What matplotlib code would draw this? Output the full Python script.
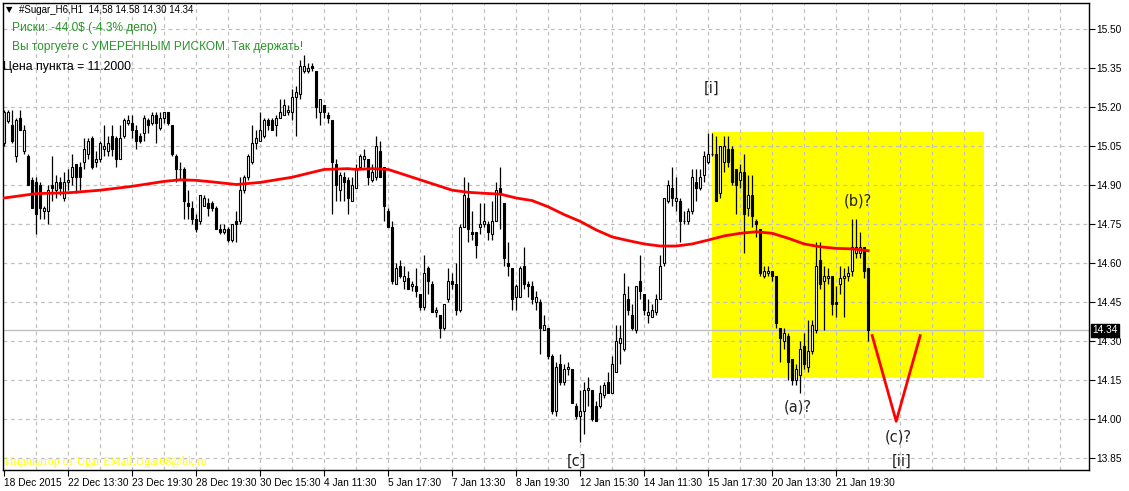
import numpy as np
import matplotlib
matplotlib.use("Agg")
import matplotlib.pyplot as plt
from matplotlib.patches import Rectangle
from matplotlib.transforms import blended_transform_factory

# OHLC, H1 bars
opens = [15.06, 15.145, 15.13, 15.01, 15.16, 15.03, 15.01, 14.92, 14.91, 14.90,
         14.80, 14.80, 14.90, 14.88, 14.91, 14.85, 14.91, 14.93, 14.98, 14.97,
         14.99, 15.02, 15.08, 14.99, 15.00, 15.04, 15.03, 15.09, 15.08, 15.00,
         15.09, 15.14, 15.14, 15.11, 15.09, 15.10, 15.15, 15.14, 15.17, 15.12,
         15.16, 15.18, 15.13, 15.01, 14.96, 14.96, 14.83, 14.81, 14.77, 14.76,
         14.82, 14.83, 14.83, 14.81, 14.73, 14.72, 14.73, 14.69, 14.76, 14.76,
         14.88, 14.93, 14.99, 15.06, 15.07, 15.09, 15.15, 15.15, 15.13, 15.16,
         15.17, 15.18, 15.18, 15.24, 15.25, 15.34, 15.34, 15.36, 15.34, 15.18,
         15.21, 15.17, 15.15, 14.98, 14.88, 14.93, 14.92, 14.84, 14.89, 14.97,
         15.00, 15.00, 14.92, 14.93, 15.03, 14.97, 14.80, 14.74, 14.52, 14.59,
         14.53, 14.54, 14.51, 14.51, 14.48, 14.43, 14.58, 14.52, 14.41, 14.40,
         14.35, 14.46, 14.53, 14.52, 14.42, 14.74, 14.85, 14.72, 14.72, 14.74,
         14.75, 14.75, 14.71, 14.76, 14.89, 14.83, 14.60, 14.58, 14.47, 14.47,
         14.59, 14.52, 14.51, 14.45, 14.45, 14.34, 14.35, 14.24, 14.03, 14.21,
         14.14, 14.19, 14.19, 14.05, 14.01, 14.03, 14.11, 14.11, 14.05, 14.05,
         14.09, 14.14, 14.10, 14.18, 14.29, 14.27, 14.46, 14.40, 14.34, 14.53,
         14.48, 14.40, 14.39, 14.41, 14.46, 14.60, 14.84, 14.89, 14.84, 14.84,
         14.76, 14.76, 14.80, 14.91, 14.89, 14.94, 14.99, 15.02, 15.02, 14.87,
         14.99, 15.04, 15.04, 14.96, 14.92, 14.95, 14.81, 14.86, 14.76, 14.73,
         14.55, 14.56, 14.57, 14.55, 14.35, 14.30, 14.32, 14.23, 14.15, 14.17,
         14.28, 14.20, 14.26, 14.34, 14.61, 14.53, 14.54, 14.55, 14.45, 14.52,
         14.54, 14.55, 14.57, 14.64, 14.64, 14.66, 14.58]
highs = [15.19, 15.19, 15.19, 15.16, 15.19, 15.13, 15.02, 14.93, 14.93, 14.91,
         14.82, 14.90, 15.01, 14.94, 14.93, 14.95, 14.96, 15.02, 14.98, 14.99,
         15.08, 15.08, 15.09, 15.03, 15.07, 15.13, 15.09, 15.13, 15.09, 15.13,
         15.16, 15.17, 15.17, 15.13, 15.10, 15.17, 15.16, 15.18, 15.18, 15.18,
         15.18, 15.18, 15.13, 15.02, 14.99, 14.97, 14.88, 14.84, 14.79, 14.86,
         14.86, 14.85, 14.84, 14.82, 14.75, 14.75, 14.74, 14.75, 14.80, 14.93,
         14.94, 15.02, 15.13, 15.11, 15.18, 15.16, 15.16, 15.16, 15.17, 15.23,
         15.23, 15.21, 15.27, 15.28, 15.38, 15.40, 15.37, 15.37, 15.34, 15.23,
         15.21, 15.18, 15.15, 15.00, 14.95, 14.95, 14.93, 14.93, 14.98, 15.02,
         15.04, 15.00, 14.98, 15.09, 15.07, 14.97, 14.81, 14.76, 14.60, 14.61,
         14.59, 14.57, 14.53, 14.58, 14.48, 14.63, 14.59, 14.53, 14.43, 14.40,
         14.44, 14.58, 14.56, 14.60, 14.75, 14.93, 14.91, 14.80, 14.72, 14.83,
         14.83, 14.76, 14.84, 14.91, 14.97, 14.83, 14.68, 14.58, 14.52, 14.59,
         14.66, 14.53, 14.53, 14.49, 14.46, 14.40, 14.35, 14.25, 14.22, 14.25,
         14.21, 14.22, 14.19, 14.06, 14.11, 14.14, 14.16, 14.11, 14.07, 14.13,
         14.14, 14.18, 14.24, 14.36, 14.36, 14.56, 14.51, 14.44, 14.51, 14.63,
         14.48, 14.46, 14.44, 14.48, 14.63, 14.85, 14.92, 14.97, 14.93, 14.85,
         14.80, 14.81, 14.96, 14.96, 14.96, 15.03, 15.10, 15.10, 15.09, 15.05,
         15.09, 15.09, 15.05, 14.96, 14.98, 15.02, 14.94, 14.94, 14.77, 14.73,
         14.59, 14.59, 14.57, 14.55, 14.35, 14.35, 14.33, 14.23, 14.21, 14.30,
         14.33, 14.38, 14.38, 14.68, 14.68, 14.59, 14.58, 14.55, 14.51, 14.59,
         14.58, 14.59, 14.77, 14.77, 14.72, 14.66, 14.58]
lows = [15.05, 15.14, 15.06, 14.99, 15.11, 15.02, 14.90, 14.81, 14.71, 14.77,
        14.77, 14.75, 14.84, 14.85, 14.86, 14.84, 14.88, 14.90, 14.87, 14.88,
        14.96, 15.00, 14.96, 14.97, 14.99, 15.01, 15.01, 15.01, 14.97, 15.00,
        15.08, 15.13, 15.08, 15.04, 15.06, 15.07, 15.10, 15.13, 15.06, 15.11,
        15.14, 15.13, 15.01, 14.91, 14.92, 14.77, 14.77, 14.75, 14.72, 14.75,
        14.82, 14.78, 14.80, 14.73, 14.71, 14.71, 14.68, 14.68, 14.68, 14.75,
        14.87, 14.92, 14.98, 15.04, 15.07, 15.08, 15.11, 15.11, 15.09, 15.16,
        15.17, 15.17, 15.15, 15.09, 15.23, 15.33, 15.33, 15.34, 15.16, 15.13,
        15.16, 15.14, 14.79, 14.84, 14.84, 14.84, 14.79, 14.84, 14.89, 14.96,
        14.97, 14.90, 14.91, 14.92, 14.93, 14.76, 14.74, 14.52, 14.52, 14.54,
        14.50, 14.50, 14.49, 14.47, 14.42, 14.42, 14.48, 14.41, 14.39, 14.31,
        14.34, 14.45, 14.50, 14.40, 14.41, 14.74, 14.68, 14.69, 14.62, 14.71,
        14.74, 14.69, 14.69, 14.76, 14.73, 14.59, 14.55, 14.42, 14.42, 14.47,
        14.50, 14.47, 14.44, 14.42, 14.25, 14.34, 14.23, 14.02, 14.01, 14.13,
        14.13, 14.17, 14.06, 14.00, 13.91, 13.94, 14.05, 13.99, 13.99, 14.04,
        14.08, 14.10, 14.10, 14.18, 14.21, 14.26, 14.40, 14.34, 14.33, 14.46,
        14.40, 14.37, 14.39, 14.40, 14.46, 14.59, 14.83, 14.82, 14.80, 14.68,
        14.75, 14.75, 14.79, 14.84, 14.88, 14.91, 14.98, 15.01, 14.84, 14.85,
        14.95, 14.97, 14.90, 14.79, 14.89, 14.64, 14.78, 14.74, 14.70, 14.55,
        14.54, 14.55, 14.53, 14.35, 14.22, 14.27, 14.15, 14.13, 14.13, 14.10,
        14.19, 14.18, 14.25, 14.33, 14.50, 14.34, 14.52, 14.40, 14.39, 14.48,
        14.39, 14.53, 14.55, 14.62, 14.62, 14.54, 14.30]
closes = [15.18, 15.18, 15.07, 15.15, 15.11, 15.11, 14.90, 14.81, 14.79, 14.81,
          14.81, 14.88, 14.89, 14.91, 14.89, 14.91, 14.92, 14.97, 14.93, 14.93,
          15.04, 15.07, 14.97, 15.00, 15.06, 15.05, 15.06, 15.04, 15.00, 15.08,
          15.15, 15.15, 15.11, 15.07, 15.07, 15.16, 15.13, 15.17, 15.14, 15.16,
          15.18, 15.14, 15.02, 14.96, 14.96, 14.84, 14.82, 14.77, 14.73, 14.86,
          14.85, 14.81, 14.81, 14.73, 14.72, 14.73, 14.69, 14.75, 14.75, 14.88,
          14.93, 15.01, 15.06, 15.08, 15.11, 15.15, 15.13, 15.11, 15.16, 15.18,
          15.21, 15.19, 15.24, 15.26, 15.36, 15.36, 15.35, 15.35, 15.20, 15.23,
          15.18, 15.16, 14.99, 14.90, 14.94, 14.91, 14.85, 14.90, 14.96, 15.01,
          15.01, 14.93, 14.95, 15.05, 14.93, 14.82, 14.74, 14.53, 14.58, 14.55,
          14.55, 14.50, 14.52, 14.49, 14.43, 14.56, 14.53, 14.41, 14.42, 14.35,
          14.44, 14.53, 14.52, 14.42, 14.74, 14.86, 14.73, 14.71, 14.67, 14.75,
          14.76, 14.72, 14.76, 14.88, 14.87, 14.62, 14.59, 14.46, 14.51, 14.58,
          14.52, 14.51, 14.46, 14.47, 14.35, 14.36, 14.24, 14.03, 14.20, 14.14,
          14.19, 14.20, 14.06, 14.01, 14.03, 14.11, 14.12, 14.00, 13.99, 14.10,
          14.13, 14.10, 14.21, 14.30, 14.31, 14.48, 14.42, 14.35, 14.51, 14.49,
          14.42, 14.41, 14.42, 14.46, 14.59, 14.85, 14.90, 14.85, 14.85, 14.76,
          14.76, 14.80, 14.93, 14.89, 14.93, 15.01, 15.02, 15.02, 14.84, 15.05,
          15.05, 14.99, 14.91, 14.90, 14.95, 14.79, 14.86, 14.78, 14.75, 14.56,
          14.57, 14.57, 14.55, 14.37, 14.31, 14.33, 14.22, 14.15, 14.19, 14.27,
          14.21, 14.26, 14.36, 14.59, 14.52, 14.55, 14.55, 14.44, 14.44, 14.54,
          14.55, 14.56, 14.66, 14.66, 14.66, 14.57, 14.34]

# red moving average, sampled every few bars
ma_bars = [0, 8, 16, 24, 32, 40, 44, 48, 52, 58, 64, 72, 76, 80, 86, 88, 92, 96,
           100, 104, 108, 112, 116, 120, 124, 128, 132, 136, 140, 144, 148, 152,
           156, 160, 164, 168, 172, 176, 180, 184, 188, 192, 196, 200, 204, 208,
           212, 216]
ma_vals = [14.85, 14.867, 14.87, 14.88, 14.895, 14.914, 14.92, 14.918, 14.912,
           14.902, 14.91, 14.93, 14.945, 14.96, 14.963, 14.96, 14.963, 14.96,
           14.94, 14.92, 14.90, 14.88, 14.872, 14.868, 14.865, 14.85, 14.84,
           14.816, 14.786, 14.76, 14.727, 14.70, 14.686, 14.673, 14.665, 14.665,
           14.673, 14.688, 14.704, 14.714, 14.72, 14.714, 14.695, 14.673, 14.662,
           14.656, 14.654, 14.647]

# projected wave (c)
zz_bars = [217, 223, 229]
zz_vals = [14.32, 13.99, 14.32]

# yellow box
box_bars = (177, 245)
box_prices = (14.157, 15.104)

yticks = [13.85, 14.00, 14.15, 14.30, 14.45, 14.60, 14.75, 14.90, 15.05, 15.20, 15.35, 15.50]
xlabels = ["18 Dec 2015", "22 Dec 13:30", "23 Dec 19:30", "28 Dec 19:30", "30 Dec 15:30",
           "4 Jan 11:30", "5 Jan 17:30", "7 Jan 13:30", "8 Jan 19:30", "12 Jan 15:30",
           "14 Jan 11:30", "15 Jan 17:30", "20 Jan 13:30", "21 Jan 19:30"]
last_price = 14.34

W, H = 1129, 491
fig = plt.figure(figsize=(W / 100, H / 100), dpi=100)
L, R, T, B = 3, 1089, 3, 470
ax = fig.add_axes([L / W, 1 - B / H, (R - L) / W, (B - T) / H])
ax.set_xlim(-0.3, (R - L) / 4 - 0.3)
ax.set_ylim(13.8024, 15.601)

# yellow box below the grid
ax.add_patch(Rectangle((box_bars[0], box_prices[0]), box_bars[1] - box_bars[0],
                       box_prices[1] - box_prices[0], facecolor="#ffff00",
                       edgecolor="none", zorder=0.5))

for yv in yticks:
    ax.axhline(yv, color="#c0c0c0", lw=0.9, ls=(0, (3, 3)), zorder=1)
for xv in range(8, 272, 8):
    ax.axvline(xv, color="#c0c0c0", lw=0.9, ls=(0, (3, 3)), zorder=1)
ax.axhline(last_price, color="#c0c0c0", lw=1.0, zorder=1.2)

# candles
n = len(closes)
xs = np.arange(n)
ax.vlines(xs, lows, highs, color="black", lw=0.9, zorder=2)
for i in range(n):
    o, c = opens[i], closes[i]
    lo, hi = min(o, c), max(o, c)
    face = "white" if c >= o else "black"
    ax.add_patch(Rectangle((i - 0.3, lo), 0.6, max(hi - lo, 0.0005),
                           facecolor=face, edgecolor="black", lw=0.8, zorder=2.5))

ax.plot(ma_bars, ma_vals, color="#ff0000", lw=2.0, zorder=3)
ax.plot(zz_bars, zz_vals, color="#ff0000", lw=2.0, zorder=3)

lab = dict(fontsize=10.5, color="#222222", ha="center", va="center",
           family="DejaVu Sans", zorder=4)
ax.text(176.75, 15.274, "[i]", **lab)
ax.text(143.0, 13.837, "[c]", **lab)
ax.text(224.25, 13.837, "[ii]", **lab)
ax.text(198.5, 14.044, "(a)?", **lab)
ax.text(213.5, 14.838, "(b)?", **lab)
ax.text(223.5, 13.93, "(c)?", **lab)

# axes and ticks
for s in ax.spines.values():
    s.set_color("black")
    s.set_linewidth(1.0)
ax.yaxis.tick_right()
ax.set_yticks(yticks)
ax.set_yticklabels([f"{v:.2f}" for v in yticks], fontsize=7.3, family="Liberation Sans")
ax.set_xticks(np.arange(0, 16 * len(xlabels), 16))
ax.set_xticklabels(xlabels, fontsize=7.3, family="Liberation Sans", ha="left")
ax.tick_params(axis="y", direction="out", length=4, width=0.8, pad=1)
ax.tick_params(axis="x", direction="out", length=4, width=0.8, pad=2)

tr = blended_transform_factory(ax.transAxes, ax.transData)
ax.text(1.0028, last_price, f"{last_price:.2f}", transform=tr, fontsize=7.3,
        family="Liberation Sans", color="white", ha="left", va="center",
        bbox=dict(boxstyle="square,pad=0.15", facecolor="black", edgecolor="black"))

def ftext(px, py, s, **kw):
    fig.text(px / W, 1 - py / H, s, va="center", **kw)

ftext(6, 10, "▼", fontsize=6, family="DejaVu Sans", color="black")
ftext(19, 10, "#Sugar_H6,H1  14,58 14.58 14.30 14.34", fontsize=7, family="Liberation Sans", color="black")
ftext(12, 28, "Риски: -44.0$ (-4.3% депо)", fontsize=8.6, family="Liberation Sans", color="#2a952a")
ftext(12, 47, "Вы торгуете с УМЕРЕННЫМ РИСКОМ. Так держать!", fontsize=8.6,
      family="Liberation Sans", color="#2a952a")
ftext(3, 67, "Цена пункта = 11.2000", fontsize=8.8, family="Liberation Sans", color="black")
ftext(5, 462, "Индикатор от Ugar EMail:Ugar68@bk.ru", fontsize=8.5, family="Liberation Serif", color="#ffff00")

fig.savefig("out.png", dpi=100)
